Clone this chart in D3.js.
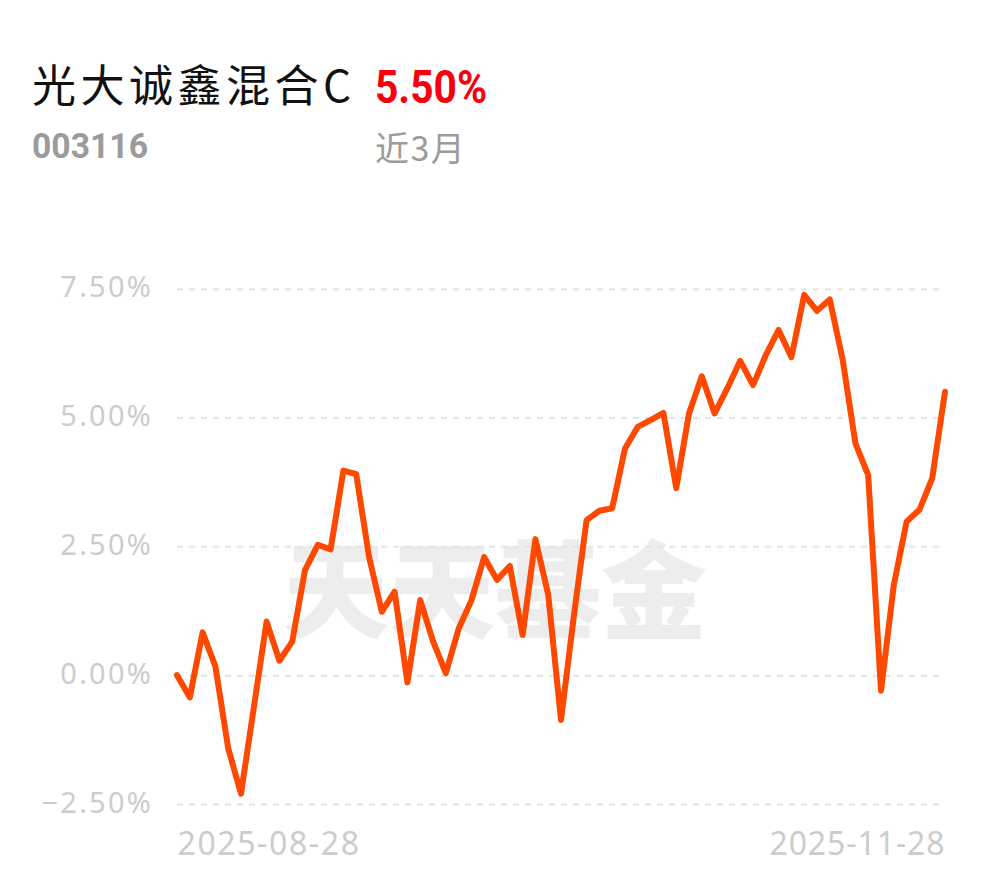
<!DOCTYPE html>
<html>
<head>
<meta charset="utf-8">
<script src="https://cdn.jsdelivr.net/npm/d3@7/dist/d3.min.js"></script>
<style>
  html, body { margin: 0; padding: 0; background: #fff; }
  svg { display: block; }
</style>
</head>
<body>
<div id="chart"></div>
<script>
// ---- data ----
const fundName = "光大诚鑫混合C";
const fundCode = "003116";
const periodReturn = "5.50%";
const periodLabel = "近3月";
const watermark = "天天基金";

const returns = [0.00, -0.43, 0.83, 0.17, -1.42, -2.30, -0.63, 1.04, 0.28, 0.65,
  2.04, 2.53, 2.44, 3.97, 3.90, 2.30, 1.23, 1.62, -0.14, 1.46,
  0.66, 0.04, 0.90, 1.45, 2.29, 1.85, 2.12, 0.78, 2.64, 1.56,
  -0.87, 1.14, 3.01, 3.19, 3.24, 4.40, 4.82, 4.95, 5.09, 3.63,
  5.08, 5.80, 5.08, 5.57, 6.10, 5.63, 6.21, 6.70, 6.17, 7.38,
  7.07, 7.29, 6.13, 4.50, 3.88, -0.30, 1.75, 2.98, 3.21, 3.82, 5.50];
const yTicks = [-2.5, 0, 2.5, 5, 7.5];
const xTickIndex = [0, returns.length - 1];
const xTickLabels = ["2025-08-28", "2025-11-28"];

// ---- layout ----
const W = 990, H = 878;
const plotLeft = 177, plotRight = 945, gridRight = 941;
const yTop = 288.7, yBottom = 804;

const svg = d3.select("#chart").append("svg").attr("width", W).attr("height", H)
  .style("background", "#fff");

// header
svg.append("text").attr("x", 32).attr("y", 102)
  .attr("font-family", "'Noto Sans CJK SC', 'Noto Sans', sans-serif")
  .attr("font-size", 44).attr("letter-spacing", 4.5).attr("fill", "#111")
  .text(fundName);
svg.append("text").attr("x", 375).attr("y", 103)
  .attr("font-family", "Roboto, 'Noto Sans', sans-serif").attr("font-weight", 700)
  .attr("font-size", 47).attr("fill", "#f5000c")
  .attr("textLength", 112).attr("lengthAdjust", "spacingAndGlyphs")
  .text(periodReturn);
svg.append("text").attr("x", 32).attr("y", 158)
  .attr("font-family", "Roboto, 'Noto Sans', sans-serif").attr("font-weight", 700)
  .attr("font-size", 35).attr("fill", "#9b9b9b")
  .attr("textLength", 116).attr("lengthAdjust", "spacingAndGlyphs")
  .text(fundCode);
svg.append("text").attr("x", 375).attr("y", 161)
  .attr("font-family", "'Noto Sans CJK SC', sans-serif")
  .attr("font-size", 34).attr("fill", "#9b9b9b").attr("letter-spacing", 1.5)
  .text(periodLabel);

// scales
const x = d3.scaleLinear().domain([0, returns.length - 1]).range([plotLeft, plotRight]);
const y = d3.scaleLinear().domain([-2.5, 7.5]).range([yBottom, yTop]);

// watermark
svg.append("text").attr("x", 495).attr("y", 630).attr("text-anchor", "middle")
  .attr("font-family", "'Noto Sans CJK SC', sans-serif").attr("font-weight", 900)
  .attr("font-size", 106).attr("fill", "#ededed")
  .text(watermark);

// y axis + gridlines
const yAxis = d3.axisLeft(y).tickValues(yTicks)
  .tickFormat(d => d3.format(".2f")(d) + "%")
  .tickSize(-(gridRight - plotLeft)).tickPadding(24);
const gy = svg.append("g").attr("transform", `translate(${plotLeft},0)`).call(yAxis);
gy.select(".domain").remove();
gy.selectAll(".tick line").attr("stroke", "#e3e3e3").attr("stroke-width", 2)
  .attr("stroke-dasharray", "6,6");
gy.selectAll(".tick text").attr("fill", "#cccccc")
  .attr("font-family", "'Noto Sans', sans-serif").attr("font-size", 29)
  .attr("letter-spacing", 2.2).attr("dy", 8);

// x axis labels
const xAxis = d3.axisBottom(x).tickValues(xTickIndex)
  .tickFormat((d, i) => xTickLabels[i]).tickSize(0).tickPadding(0);
const gx = svg.append("g").attr("transform", `translate(0,${855})`).call(xAxis);
gx.select(".domain").remove();
gx.selectAll(".tick text").attr("fill", "#cccccc")
  .attr("font-family", "'Noto Sans', sans-serif").attr("font-size", 32)
  .attr("letter-spacing", (d, i) => i === 0 ? 1.6 : 0.9).attr("dy", 0)
  .attr("text-anchor", (d, i) => i === 0 ? "start" : "end");

// line
const line = d3.line().x((d, i) => x(i)).y(d => y(d));
svg.append("path").datum(returns)
  .attr("d", line).attr("fill", "none")
  .attr("stroke", "#ff4800").attr("stroke-width", 6)
  .attr("stroke-linejoin", "round").attr("stroke-linecap", "round");
</script>
</body>
</html>
